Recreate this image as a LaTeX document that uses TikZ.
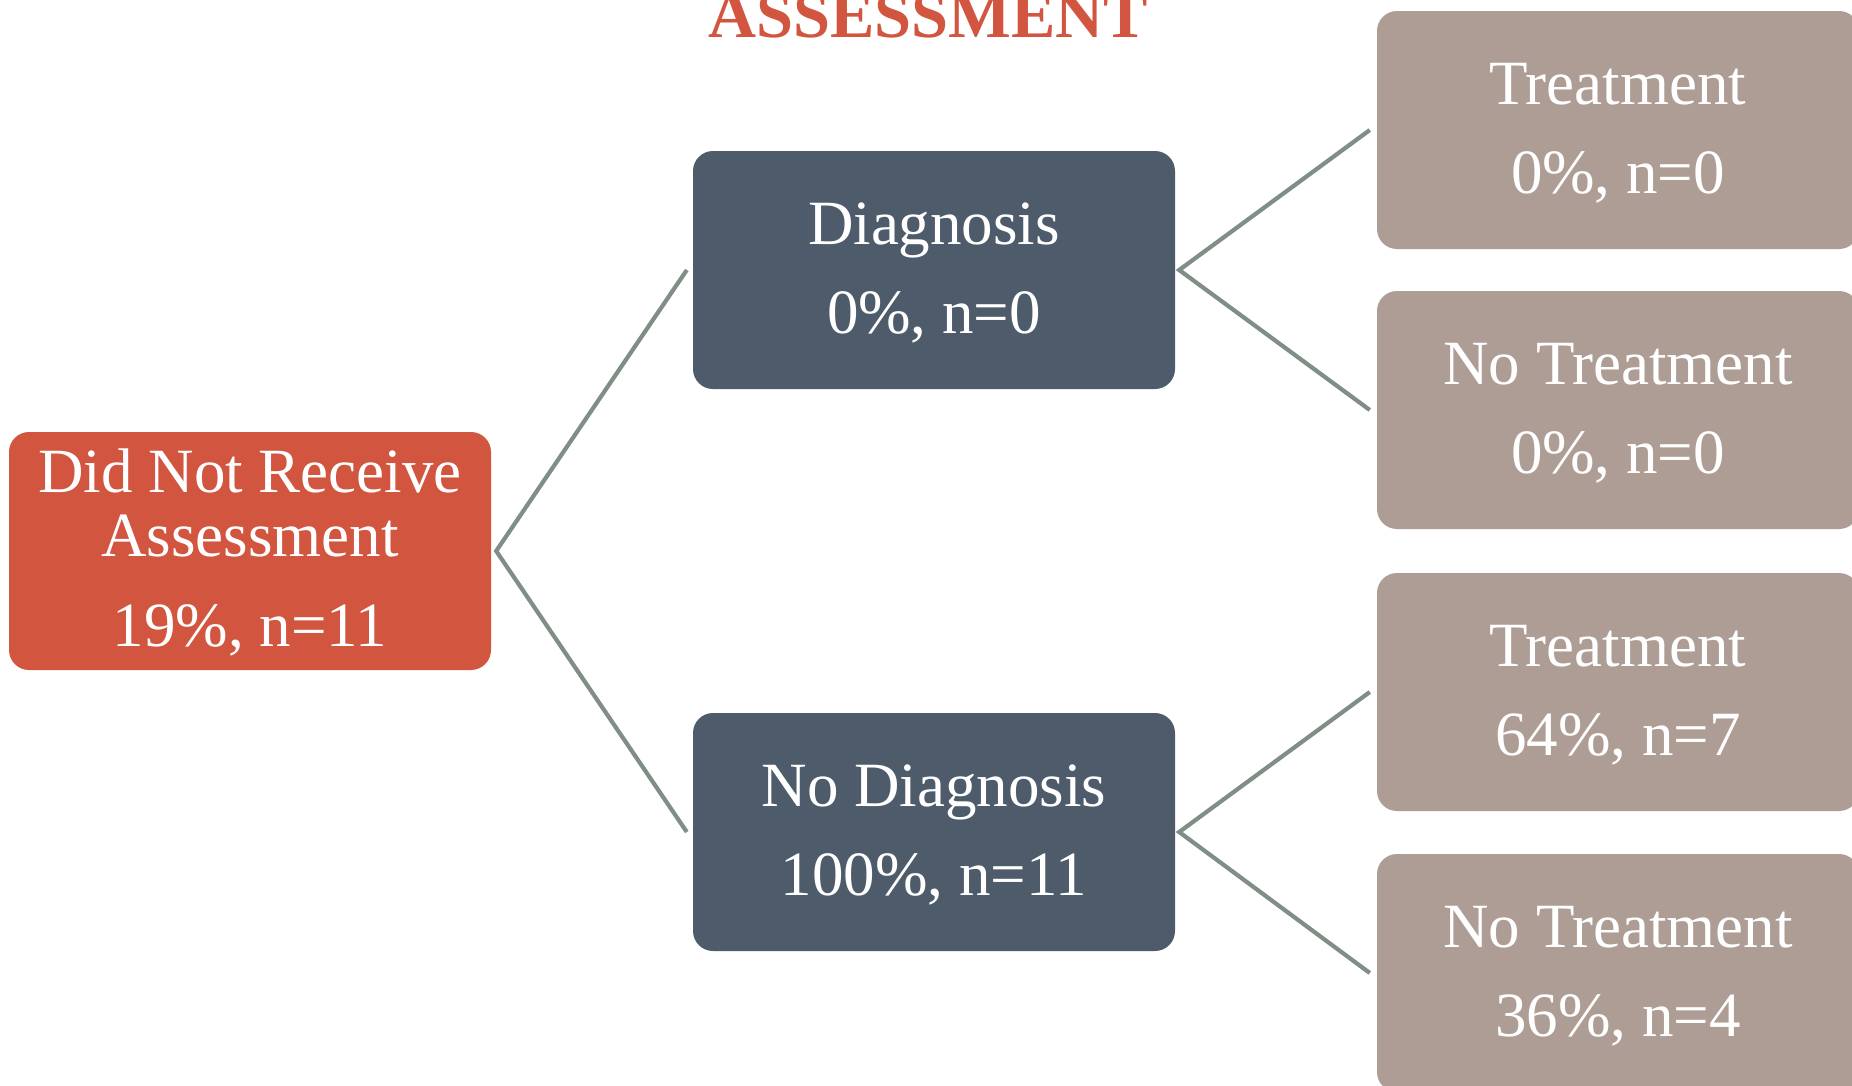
\documentclass[tikz,border=0pt]{standalone}
\usepackage{fontspec}
\setmainfont{Liberation Serif}
\definecolor{redbox}{HTML}{D2553F}
\definecolor{slatebox}{HTML}{4E5B6B}
\definecolor{taupebox}{HTML}{AE9D95}
\definecolor{connector}{HTML}{808E86}
\begin{document}
\begin{tikzpicture}[x=1pt,y=-1pt,
  box/.style={rounded corners=20pt, minimum width=482pt, minimum height=238pt,
    inner sep=0pt, text=white, align=center, font=\fontsize{63}{64}\selectfont},
  rootbox/.style={box, fill=redbox},
  midbox/.style={box, fill=slatebox},
  leafbox/.style={box, fill=taupebox},
  link/.style={draw=connector, line width=4.2pt},
  boxtext/.style={text=white, align=center, inner sep=0pt, font=\fontsize{63}{64}\selectfont}
]
\clip (0,0) rectangle (1852,1085);
\fill[white] (0,0) rectangle (1852,1085);

\node[anchor=base, text=redbox, font=\fontsize{66.5}{70}\selectfont\bfseries] (title) at (928,37) {ASSESSMENT};

\node[rootbox] (L) at (250,551) {};
\node[midbox] (D) at (934,270) {};
\node[midbox] (ND) at (934,832) {};
\node[leafbox] (T1) at (1618,130) {};
\node[leafbox] (NT1) at (1618,410) {};
\node[leafbox] (T2) at (1618,692) {};
\node[leafbox] (NT2) at (1618,973) {};

\node[boxtext] (Lt) at ([yshift=-1pt]L.center) {Did Not Receive\\Assessment\\[26pt]19\%, n=11};
\node[boxtext] (Dt) at ([yshift=-3pt]D.center) {Diagnosis\\[25pt]0\%, n=0};
\node[boxtext] (NDt) at ([yshift=-3pt]ND.center) {No Diagnosis\\[25pt]100\%, n=11};
\node[boxtext] (T1t) at ([yshift=-3pt]T1.center) {Treatment\\[25pt]0\%, n=0};
\node[boxtext] (NT1t) at ([yshift=-3pt]NT1.center) {No Treatment\\[25pt]0\%, n=0};
\node[boxtext] (T2t) at ([yshift=-3pt]T2.center) {Treatment\\[25pt]64\%, n=7};
\node[boxtext] (NT2t) at ([yshift=-3pt]NT2.center) {No Treatment\\[25pt]36\%, n=4};

\coordinate (Lv) at ([xshift=5pt]L.east);
\coordinate (Dl) at ([xshift=-6pt]D.west);
\coordinate (NDl) at ([xshift=-6pt]ND.west);
\coordinate (Dv) at ([xshift=4pt]D.east);
\coordinate (NDv) at ([xshift=4pt]ND.east);
\coordinate (T1l) at ([xshift=-7pt]T1.west);
\coordinate (NT1l) at ([xshift=-7pt]NT1.west);
\coordinate (T2l) at ([xshift=-7pt]T2.west);
\coordinate (NT2l) at ([xshift=-7pt]NT2.west);

\draw[link] (Dl) -- (Lv) -- (NDl);
\draw[link] (T1l) -- (Dv) -- (NT1l);
\draw[link] (T2l) -- (NDv) -- (NT2l);
\end{tikzpicture}
\end{document}
